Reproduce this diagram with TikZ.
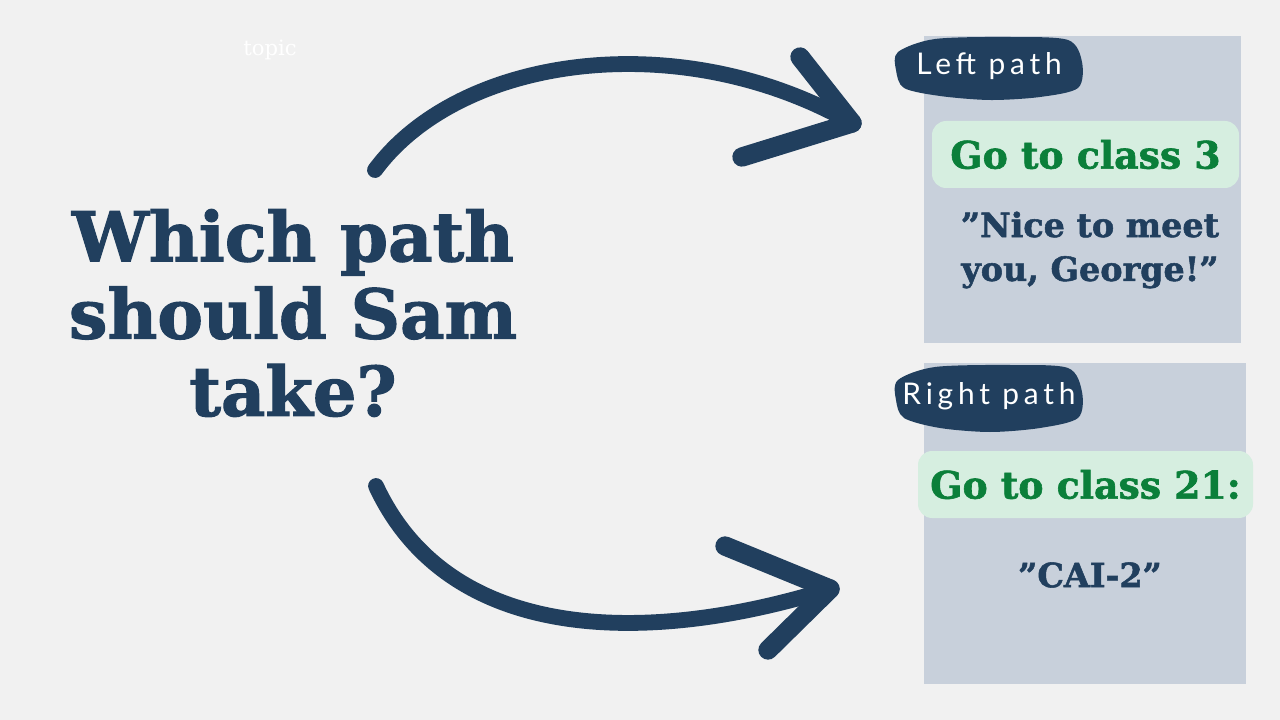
\documentclass[tikz,border=0pt]{standalone}
\usepackage{fontspec}
\setmainfont{DejaVu Serif}[BoldFeatures={FakeBold=1.6}]
\newfontfamily\blobfont[LetterSpace=16]{Lato}
\usetikzlibrary{calc, positioning}
\definecolor{navy}{HTML}{213F5E}
\definecolor{panelgrey}{HTML}{C8D0DB}
\definecolor{mint}{HTML}{D6EEE0}
\definecolor{classgreen}{HTML}{0B7F3A}
\definecolor{paper}{HTML}{F1F1F1}

\tikzset{
  panel/.style={fill=panelgrey, inner sep=0pt},
  classbox/.style={fill=mint, rounded corners=8pt, inner sep=0pt,
    text=classgreen, font=\bfseries\fontsize{21.5}{24}\selectfont},
  quote/.style={text=navy, align=center, font=\bfseries\fontsize{19}{25}\selectfont},
  pathlabel/.style={text=white, font=\blobfont\fontsize{17}{18}\selectfont},
  bigarrow/.style={navy, line width=9pt, line cap=round},
  barb/.style={navy, line width=11pt, line cap=round}
}

\begin{document}
\begin{tikzpicture}[x=0.2mm, y=-0.2mm]
% paper background
\fill[paper] (0,0) rectangle (1280,720);
\useasboundingbox (0,0) rectangle (1280,720);

\node[text=white, font=\fontsize{12}{14}\selectfont] (topic) at (270,50) {topic};

% the question
\node[text=navy, align=center, font=\bfseries\fontsize{39}{44}\selectfont] (question) at (293,313)
  {Which path\\should Sam\\take?};

% Left path
\node[panel, minimum width=63.4mm, minimum height=61.4mm] (leftpanel) at (1082.5,189.5) {};
\fill[navy] plot[smooth cycle] coordinates {(898,52) (935,39) (1010,37) (1068,40) (1082,62)
  (1078,88) (1040,97) (990,100) (940,96) (904,88) (896,70)};
\node[pathlabel] (leftlabel) at (989,66) {Left path};
\node[classbox, minimum width=61.4mm, minimum height=13.4mm] (leftclass) at (1085.5,154.5) {Go to class 3};
\node[quote] (leftquote) at (1090,250) {”Nice to meet\\you, George!”};

% Right path
\node[panel, minimum width=64.4mm, minimum height=64.2mm] (rightpanel) at (1085,523.5) {};
\fill[navy] plot[smooth cycle] coordinates {(898,380) (935,367) (1010,365) (1068,368) (1082,392)
  (1078,418) (1040,428) (990,432) (940,428) (904,418) (896,400)};
\node[pathlabel] (rightlabel) at (989,396) {Right path};
\node[classbox, minimum width=67mm, minimum height=13.4mm] (rightclass) at (1085.5,484.5) {Go to class 21:};
\node[quote] (rightquote) at (1090,575) {”CAI-2”};

% arrows
\coordinate (topstart) at (375,170);
\coordinate (toptip) at (852,123);
\coordinate (bottomstart) at (376,486);
\coordinate (bottomtip) at (830,589);
\draw[bigarrow] (topstart) .. controls (460,55) and (680,25) .. (toptip);
\draw[barb] (toptip) -- (800,57);
\draw[barb] (toptip) -- (742,157);
\draw[bigarrow] (bottomstart) .. controls (450,645) and (650,645) .. (bottomtip);
\draw[barb] (bottomtip) -- (725,546);
\draw[barb] (bottomtip) -- (768,650);
\end{tikzpicture}
\end{document}
